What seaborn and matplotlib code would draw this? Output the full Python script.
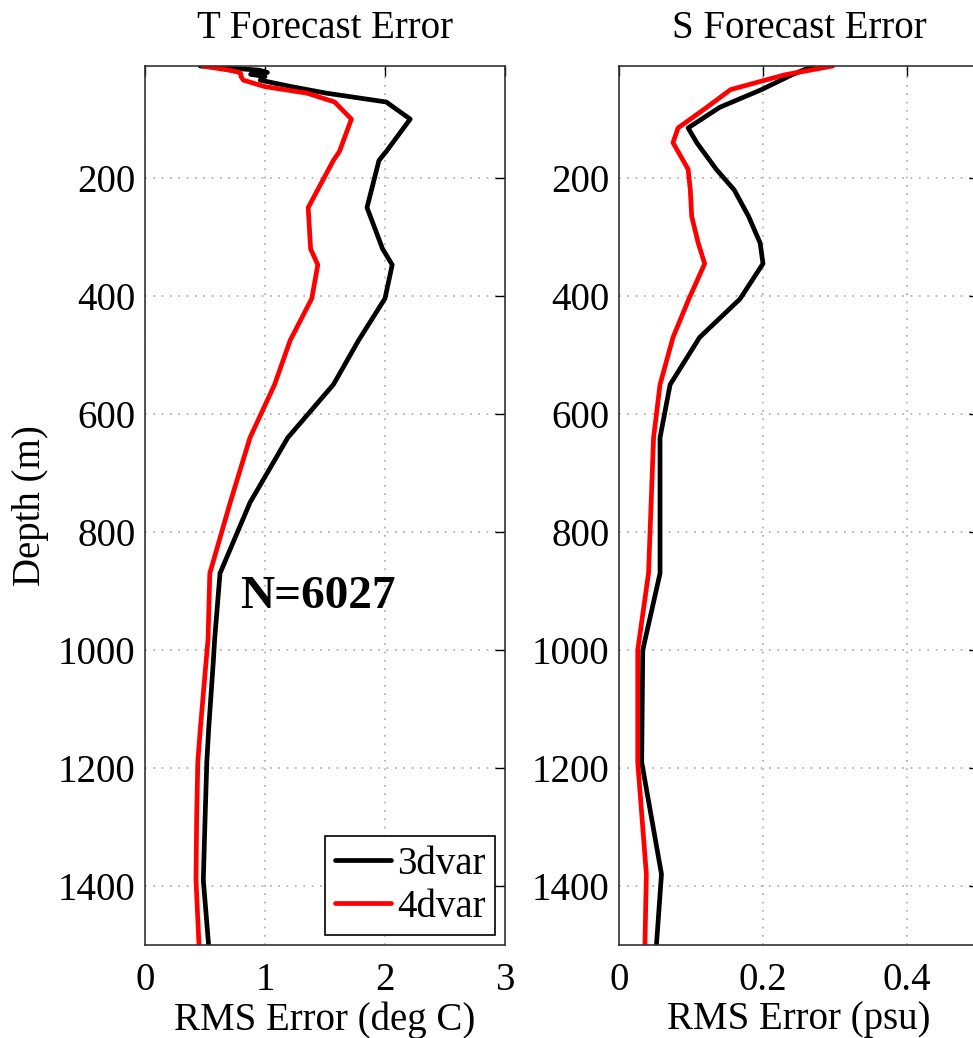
import numpy as np
import pandas as pd
import matplotlib
matplotlib.use("Agg")
import matplotlib.pyplot as plt
import seaborn as sns

# depth levels (m) and RMS errors
depth_t = [10, 17, 21, 24, 28, 34, 45, 56, 71, 100, 155, 170, 250, 320, 347, 404,
           475, 550, 640, 750, 870, 983, 1017, 1136, 1190, 1290, 1390, 1500]
t_3dvar = [0.46, 0.95, 1.02, 0.88, 1.00, 0.96, 1.22, 1.51, 2.01, 2.21, 2.01, 1.95, 1.85, 1.98, 2.06, 2.00,
           1.78, 1.57, 1.19, 0.875, 0.625, 0.58, 0.57, 0.53, 0.515, 0.50, 0.486, 0.53]
t_4dvar = [0.48, 0.70, 0.79, 0.80, 0.80, 0.82, 1.00, 1.35, 1.58, 1.72, 1.62, 1.57, 1.36, 1.38, 1.44, 1.39,
           1.21, 1.08, 0.875, 0.71, 0.54, 0.525, 0.51, 0.46, 0.44, 0.43, 0.425, 0.45]

depth_s = [10, 25, 50, 80, 115, 140, 185, 220, 265, 310, 345, 405, 470, 550, 640,
           870, 1000, 1190, 1380, 1500]
s_3dvar = [0.27, 0.24, 0.198, 0.14, 0.096, 0.108, 0.135, 0.16, 0.18, 0.196, 0.20, 0.168, 0.112, 0.071, 0.057,
           0.057, 0.033, 0.0315, 0.059, 0.052]
s_4dvar = [0.297, 0.23, 0.155, 0.122, 0.082, 0.075, 0.096, 0.099, 0.101, 0.11, 0.119, 0.097, 0.075, 0.057, 0.048,
           0.041, 0.026, 0.026, 0.038, 0.036]

methods = ["3dvar", "4dvar"]
colors = {"3dvar": "black", "4dvar": "red"}

sns.set_style("white")
plt.rcParams['font.family'] = ['Liberation Serif', 'DejaVu Serif']
plt.rcParams['text.color'] = 'black'
plt.rcParams['axes.labelcolor'] = 'black'
plt.rcParams['xtick.color'] = 'black'
plt.rcParams['ytick.color'] = 'black'

fig = plt.figure(figsize=(9.73, 10.38), dpi=100)
ax_t = fig.add_axes([145 / 973, 1 - 945 / 1038, 360 / 973, 879 / 1038])
ax_s = fig.add_axes([619 / 973, 1 - 945 / 1038, 360 / 973, 879 / 1038])

FS = 28

panels = [
    (ax_t, depth_t, {"3dvar": t_3dvar, "4dvar": t_4dvar}, "T Forecast Error", "RMS Error (deg C)", (0, 3), [0, 1, 2, 3], ["0", "1", "2", "3"]),
    (ax_s, depth_s, {"3dvar": s_3dvar, "4dvar": s_4dvar}, "S Forecast Error", "RMS Error (psu)", (0, 0.5), [0, 0.2, 0.4], ["0", "0.2", "0.4"]),
]

for ax, depth, vals, title, xlabel, xlim, xt, xtl in panels:
    for m in methods:
        df = pd.DataFrame({"rms": vals[m], "depth": depth})
        sns.lineplot(data=df, x="rms", y="depth", orient="y", sort=False, estimator=None,
                     color=colors[m], lw=3.4, label=m, ax=ax)
    ax.set_xlim(*xlim)
    ax.set_ylim(1500, 10)
    ax.set_xticks(xt)
    ax.set_xticklabels(xtl)
    ax.set_yticks([200, 400, 600, 800, 1000, 1200, 1400])
    ax.tick_params(direction="in", length=7, width=1, top=True, right=True,
                   labelsize=FS, colors="black")
    ax.tick_params(axis="x", pad=12)
    ax.tick_params(axis="y", pad=7)
    ax.grid(True, color="#aaaaaa", linestyle=(0, (1, 4)), linewidth=1.2)
    for sp in ax.spines.values():
        sp.set_color("#333333")
        sp.set_linewidth(1.2)
    ax.set_title(title, fontsize=FS, pad=20, color="black")
    ax.set_xlabel(xlabel, fontsize=FS, labelpad=2)
    ax.set_ylabel("")

ax_t.set_ylabel("Depth (m)", fontsize=FS, labelpad=6)
ax_t.text(0.79, 910, "N=6027", fontsize=34, fontweight="bold", va="center", ha="left", color="black")

ax_s.get_legend().remove()
leg = ax_t.legend(loc="lower right", fontsize=FS, frameon=True, fancybox=False,
                  edgecolor="black", framealpha=1, handlelength=1.45, handletextpad=0.15,
                  borderpad=0.25, labelspacing=0.15, borderaxespad=0.25)
leg.get_frame().set_linewidth(1.2)
for txt in leg.get_texts():
    txt.set_color("black")

fig.savefig("out.png", dpi=100)
